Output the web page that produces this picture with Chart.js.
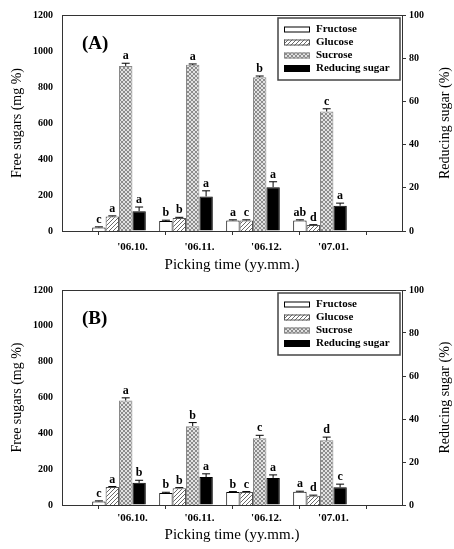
<!DOCTYPE html>
<html>
<head>
<meta charset="utf-8">
<script src="https://cdn.jsdelivr.net/npm/chart.js@4/dist/chart.umd.min.js"></script>
<style>
  body { margin: 0; background: #fff; }
  .panel { position: absolute; left: 0; width: 454px; }
</style>
</head>
<body>
<div class="panel" style="top:0;height:275px"><canvas id="chartA" width="454" height="275"></canvas></div>
<div class="panel" style="top:275px;height:274px"><canvas id="chartB" width="454" height="274"></canvas></div>
<script>
// picking times and where the groups sit on the x scale
const categories = ["'06.10.", "'06.11.", "'06.12.", "'07.01."];
const groupPos = [1, 2, 3, 4];
const seriesNames = ["Fructose", "Glucose", "Sucrose", "Reducing sugar"];

// (A) free sugars, mg %  (reducing sugar in %)
const fructoseA = [20, 55, 59, 59];
const glucoseA = [81, 72, 59, 33];
const sucroseA = [917, 923, 854, 664];
const reducingA = [9.2, 16.0, 20.3, 11.7];
const fructoseErrA = [3, 5, 3, 3];
const glucoseErrA = [3, 4, 3, 2];
const sucroseErrA = [15, 5, 7, 15];
const reducingErrA = [1.9, 2.6, 2.5, 1.2];
const fructoseLetA = ["c", "b", "a", "ab"];
const glucoseLetA = ["a", "b", "c", "d"];
const sucroseLetA = ["a", "a", "b", "c"];
const reducingLetA = ["a", "a", "a", "a"];

// (B)
const fructoseB = [20, 67, 72, 74];
const glucoseB = [100, 94, 72, 52];
const sucroseB = [583, 440, 372, 361];
const reducingB = [10.3, 13.0, 12.6, 8.2];
const fructoseErrB = [3, 4, 3, 3];
const glucoseErrB = [3, 3, 3, 3];
const sucroseErrB = [15, 20, 17, 18];
const reducingErrB = [1.2, 1.5, 1.4, 1.5];
const fructoseLetB = ["c", "b", "b", "a"];
const glucoseLetB = ["a", "b", "c", "d"];
const sucroseLetB = ["a", "b", "c", "d"];
const reducingLetB = ["b", "a", "a", "c"];

// axes
const leftMax = 1200, leftStep = 200;
const rightMax = 100, rightStep = 20;

Chart.defaults.font.family = "'Liberation Serif', 'DejaVu Serif', serif";
Chart.defaults.color = "#000";

// fill patterns
const makePattern = (bg, fg, dots) => {
  const c = document.createElement("canvas");
  c.width = 4; c.height = 4;
  const g = c.getContext("2d");
  g.fillStyle = bg; g.fillRect(0, 0, 4, 4);
  g.fillStyle = fg;
  dots.forEach(d => g.fillRect(d[0], d[1], 1, 1));
  return g.createPattern(c, "repeat");
};
const hatch = makePattern("#ffffff", "#6a6a6a", [[0, 3], [1, 2], [2, 1], [3, 0]]);
const cross = makePattern("#e2e2e2", "#8c8c8c", [[0, 0], [1, 1], [2, 2], [3, 3], [3, 0], [2, 1], [1, 2], [0, 3]]);

const fills = ["#ffffff", hatch, cross, "#000000"];
const edges = ["#000000", "#555555", "#888888", "#000000"];

const toPoints = arr => arr.map((v, i) => ({ x: groupPos[i], y: v }));

// error bars, letters, legend, frame, right title
const extrasPlugin = {
  id: "extras",
  afterDatasetsDraw(chart) {
    const ctx = chart.ctx;
    const area = chart.chartArea;
    const panel = chart.options.plugins.extras;
    ctx.save();
    chart.data.datasets.forEach((ds, i) => {
      const meta = chart.getDatasetMeta(i);
      const scale = chart.scales[ds.yAxisID];
      meta.data.forEach((bar, j) => {
        const v = ds.data[j].y;
        const yTop = scale.getPixelForValue(v + ds.errors[j]);
        ctx.strokeStyle = "#000";
        ctx.lineWidth = 1;
        ctx.beginPath();
        ctx.moveTo(bar.x, bar.y);
        ctx.lineTo(bar.x, yTop);
        ctx.moveTo(bar.x - 4, yTop);
        ctx.lineTo(bar.x + 4, yTop);
        ctx.stroke();
        ctx.fillStyle = "#000";
        ctx.font = "bold 12px 'Liberation Serif'";
        ctx.textAlign = "center";
        ctx.textBaseline = "bottom";
        ctx.fillText(ds.letters[j], bar.x, yTop - 1);
      });
    });

    // top frame line
    ctx.strokeStyle = "#333";
    ctx.lineWidth = 1;
    ctx.beginPath();
    ctx.moveTo(area.left, area.top + 0.5);
    ctx.lineTo(area.right, area.top + 0.5);
    ctx.stroke();

    // panel label
    ctx.fillStyle = "#000";
    ctx.font = "bold 19px 'Liberation Serif'";
    ctx.textAlign = "left";
    ctx.textBaseline = "middle";
    ctx.fillText(panel.label, area.left + 20, area.top + 29);

    // legend
    const bx = area.right - 124, by = area.top + 3, bw = 122, bh = 62;
    ctx.fillStyle = "#fff";
    ctx.fillRect(bx, by, bw, bh);
    ctx.strokeStyle = "#444";
    ctx.lineWidth = 1.5;
    ctx.strokeRect(bx, by, bw, bh);
    chart.data.datasets.forEach((ds, i) => {
      const cy = by + 11.5 + 13 * i;
      const sh = i === 3 ? 7 : 6;
      ctx.fillStyle = ds.backgroundColor;
      ctx.fillRect(bx + 6, cy - sh / 2, 26, sh);
      ctx.strokeStyle = ds.borderColor;
      ctx.lineWidth = 1;
      ctx.strokeRect(bx + 6.5, cy - sh / 2 + 0.5, 25, sh - 1);
      ctx.fillStyle = "#000";
      ctx.font = "bold 11px 'Liberation Serif'";
      ctx.textAlign = "left";
      ctx.textBaseline = "middle";
      ctx.fillText(ds.label, bx + 38, cy);
    });

    // right axis title, reading bottom to top
    ctx.save();
    ctx.translate(chart.width - 9, (area.top + area.bottom) / 2);
    ctx.rotate(-Math.PI / 2);
    ctx.font = "14px 'Liberation Serif'";
    ctx.textAlign = "center";
    ctx.textBaseline = "middle";
    ctx.fillText("Reducing sugar (%)", 0, 0);
    ctx.restore();

    ctx.restore();
  }
};

const makeChart = (id, label, values, errors, letters, padTop, tickPad, titlePad) => {
  const datasets = seriesNames.map((name, k) => ({
    label: name,
    data: toPoints(values[k]),
    errors: errors[k],
    letters: letters[k],
    yAxisID: k === 3 ? "y1" : "y",
    backgroundColor: fills[k],
    borderColor: edges[k],
    borderWidth: 1,
    categoryPercentage: 0.8,
    barPercentage: 1.0
  }));

  return new Chart(document.getElementById(id), {
    type: "bar",
    data: { datasets },
    options: {
      responsive: false,
      animation: false,
      devicePixelRatio: 1,
      layout: { padding: { top: padTop, left: 0, right: 0, bottom: 0 } },
      plugins: {
        legend: { display: false },
        tooltip: { enabled: false },
        extras: { label }
      },
      scales: {
        x: {
          type: "linear",
          stacked: false,
          offset: false,
          min: 0.149,
          max: 5.224,
          afterBuildTicks: scale => {
            scale.ticks = groupPos.map(p => ({ value: p + 0.2 }));
          },
          afterFit: scale => { scale.height = 44; },
          grid: { display: true, drawOnChartArea: false, drawTicks: true, tickLength: 4, color: "#333" },
          border: { display: true, color: "#333", width: 1 },
          ticks: {
            padding: tickPad,
            maxRotation: 0,
            autoSkip: false,
            font: { size: 11, weight: "bold" },
            callback: (value, index) => categories[index]
          },
          title: {
            display: true,
            text: "Picking time (yy.mm.)",
            font: { size: 15 },
            padding: { top: 0, bottom: titlePad }
          }
        },
        y: {
          position: "left",
          min: 0,
          max: leftMax,
          afterFit: scale => { scale.width = 62; },
          grid: { display: false, drawTicks: false },
          border: { display: true, color: "#333", width: 1 },
          ticks: {
            stepSize: leftStep,
            padding: 9,
            font: { size: 10, weight: "bold" },
            callback: v => String(v)
          },
          title: {
            display: true,
            text: "Free sugars (mg %)",
            font: { size: 14 },
            padding: { top: 9, bottom: 0 }
          }
        },
        y1: {
          position: "right",
          min: 0,
          max: rightMax,
          afterFit: scale => { scale.width = 52; },
          grid: { display: true, drawOnChartArea: false, drawTicks: true, tickLength: 4, color: "#333" },
          border: { display: true, color: "#333", width: 1 },
          ticks: {
            stepSize: rightStep,
            padding: 3,
            font: { size: 10, weight: "bold" },
            callback: v => String(v)
          }
        }
      }
    },
    plugins: [extrasPlugin]
  });
};

makeChart("chartA", "(A)",
  [fructoseA, glucoseA, sucroseA, reducingA],
  [fructoseErrA, glucoseErrA, sucroseErrA, reducingErrA],
  [fructoseLetA, glucoseLetA, sucroseLetA, reducingLetA],
  15, 6, 1);

makeChart("chartB", "(B)",
  [fructoseB, glucoseB, sucroseB, reducingB],
  [fructoseErrB, glucoseErrB, sucroseErrB, reducingErrB],
  [fructoseLetB, glucoseLetB, sucroseLetB, reducingLetB],
  14, 3, 5);
</script>
</body>
</html>
